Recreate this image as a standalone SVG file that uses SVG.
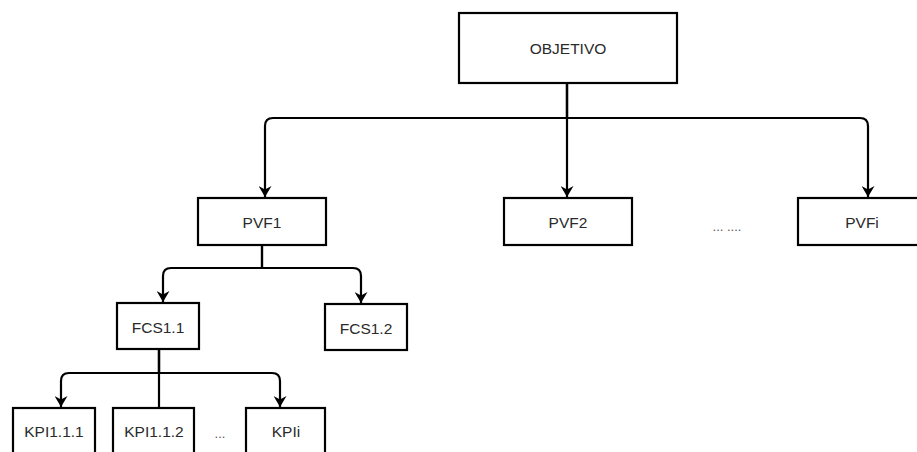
<svg xmlns="http://www.w3.org/2000/svg" width="917" height="452" viewBox="0 0 917 452">
  <style>
    .box { fill: #ffffff; stroke: #000000; stroke-width: 2.2; }
    .lbl { font-family: "Liberation Sans", Arial, sans-serif; font-size: 15.5px; fill: #2a2a2a; text-anchor: middle; dominant-baseline: central; }
    .dots { font-family: "Liberation Sans", Arial, sans-serif; font-size: 13px; fill: #555555; text-anchor: middle; dominant-baseline: central; }
    .edge { fill: none; stroke: #000000; stroke-width: 2.2; }
    .arr { marker-end: url(#head); }
  </style>
  <defs>
    <marker id="head" viewBox="0 0 11 13" markerWidth="11" markerHeight="13" markerUnits="userSpaceOnUse" refX="11" refY="6.5" orient="auto">
      <path d="M0,0 L11,6.5 L0,13 L3.5,6.5 Z" fill="#000000"/>
    </marker>
  </defs>

  <!-- connectors -->
  <g id="connectors">
    <path class="edge arr" d="M567,83 V197"/>
    <path class="edge arr" d="M567,83 V118 H273 Q265,118 265,126 V197"/>
    <path class="edge arr" d="M567,83 V118 H860 Q868,118 868,126 V197"/>
    <path class="edge arr" d="M262,245 V268 H171 Q163,268 163,276 V302"/>
    <path class="edge arr" d="M262,245 V268 H353 Q361,268 361,276 V303"/>
    <path class="edge arr" d="M159,349 V373 H69 Q61,373 61,381 V407"/>
    <path class="edge" d="M159,349 V408"/>
    <path class="edge arr" d="M159,349 V373 H272 Q280,373 280,381 V407"/>
  </g>

  <g id="objetivo">
    <rect class="box" x="459" y="13" width="218" height="70"/>
    <text class="lbl" x="568" y="48">OBJETIVO</text>
  </g>
  <g id="pvf1">
    <rect class="box" x="198" y="198" width="128" height="47"/>
    <text class="lbl" x="262" y="222">PVF1</text>
  </g>
  <g id="pvf2">
    <rect class="box" x="504" y="198" width="128" height="47"/>
    <text class="lbl" x="568" y="222">PVF2</text>
  </g>
  <g id="pvf-more">
    <text class="dots" x="727" y="226">... ....</text>
  </g>
  <g id="pvfi">
    <rect class="box" x="798" y="198" width="128" height="47"/>
    <text class="lbl" x="862" y="222">PVFi</text>
  </g>
  <g id="fcs11">
    <rect class="box" x="117" y="303" width="82" height="46"/>
    <text class="lbl" x="158" y="327">FCS1.1</text>
  </g>
  <g id="fcs12">
    <rect class="box" x="325" y="304" width="82" height="46"/>
    <text class="lbl" x="366" y="328">FCS1.2</text>
  </g>
  <g id="kpi111">
    <rect class="box" x="13" y="408" width="82" height="50"/>
    <text class="lbl" x="54" y="431">KPI1.1.1</text>
  </g>
  <g id="kpi112">
    <rect class="box" x="113" y="408" width="81" height="50"/>
    <text class="lbl" x="154" y="431">KPI1.1.2</text>
  </g>
  <g id="kpi-more">
    <text class="dots" x="220" y="433">...</text>
  </g>
  <g id="kpii">
    <rect class="box" x="246" y="408" width="79" height="50"/>
    <text class="lbl" x="286" y="431">KPIi</text>
  </g>
</svg>
